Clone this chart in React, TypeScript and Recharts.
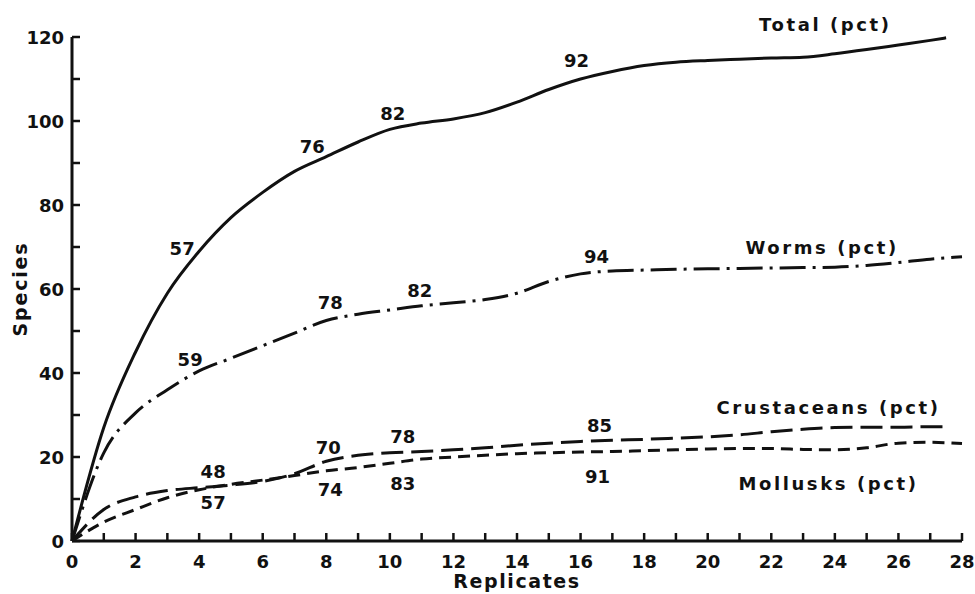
import { LineChart, Line, XAxis, YAxis, ReferenceDot } from "recharts";

const REPLICATES = [0, 1, 2, 3, 4, 5, 6, 7, 8, 9, 10, 11, 12, 13, 14, 15, 16, 17, 18, 19, 20, 21, 22, 23, 24, 25, 26, 27, 27.5, 28];
const TOTAL = [0, 27, 45, 59, 69, 77, 83, 88, 91.5, 95, 98, 99.5, 100.5, 102, 104.5, 107.5, 110, 111.8, 113.2, 114, 114.4, 114.7, 115, 115.2, 116, 117, 118.1, 119.2, 119.8, null];
const WORMS = [0, 21, 30.5, 36, 40.5, 43.5, 46.5, 49.5, 52.5, 54, 55, 56, 56.7, 57.5, 59, 61.8, 63.6, 64.3, 64.5, 64.7, 64.8, 64.9, 65, 65.1, 65.2, 65.6, 66.3, 67.1, 67.4, 67.7];
const CRUSTACEANS = [0, 7.5, 10.5, 12, 12.7, 13.3, 14.2, 16, 19, 20.4, 21, 21.3, 21.7, 22.2, 22.8, 23.3, 23.7, 24, 24.2, 24.5, 24.8, 25.3, 26, 26.6, 27, 27.1, 27.1, 27.2, 27.2, null];
const MOLLUSKS = [0, 4.5, 7.5, 10.3, 12.2, 13.5, 14.5, 15.6, 16.7, 17.5, 18.5, 19.5, 20, 20.4, 20.8, 21, 21.2, 21.3, 21.5, 21.7, 21.9, 22, 22, 21.8, 21.7, 22.2, 23.3, 23.5, 23.4, 23.2];

// percent of final species count, marked at these replicates
const PCT_AT = [4, 8, 10, 16];
const TOTAL_PCT = [57, 76, 82, 92];
const WORMS_PCT = [59, 78, 82, 94];
const CRUSTACEANS_PCT = [48, 70, 78, 85];
const MOLLUSKS_PCT = [57, 74, 83, 91];

const X_TICKS = [0, 1, 2, 3, 4, 5, 6, 7, 8, 9, 10, 11, 12, 13, 14, 15, 16, 17, 18, 19, 20, 21, 22, 23, 24, 25, 26, 27, 28];
const Y_TICKS = [0, 10, 20, 30, 40, 50, 60, 70, 80, 90, 100, 110, 120];

const FONT = "'DejaVu Sans', sans-serif";
const INK = "#111";

const rows = REPLICATES.map((x, i) => ({
  x,
  total: TOTAL[i],
  worms: WORMS[i],
  crustaceans: CRUSTACEANS[i],
  mollusks: MOLLUSKS[i],
}));

const valueAt = (series: (number | null)[], x: number) => series[REPLICATES.indexOf(x)] as number;

const series = [
  { key: "total", name: "Total (pct)", values: TOTAL, pct: TOTAL_PCT, dash: undefined, offsets: [[-17, -3], [-14, -10], [3, -16], [-4, -19]], nameAt: [23.7, 122.9] },
  { key: "worms", name: "Worms (pct)", values: WORMS, pct: WORMS_PCT, dash: "26 7 3 7", offsets: [[-9, -11], [4, -18], [30, -20], [16, -17]], nameAt: [23.6, 70] },
  { key: "crustaceans", name: "Crustaceans (pct)", values: CRUSTACEANS, pct: CRUSTACEANS_PCT, dash: "22 8", offsets: [[14, -16], [2, -14], [13, -16], [19, -16]], nameAt: [23.8, 31.7] },
  { key: "mollusks", name: "Mollusks (pct)", values: MOLLUSKS, pct: MOLLUSKS_PCT, dash: "12 7", offsets: [[14, 13], [4, 19], [13, 20], [17, 25]], nameAt: [23.8, 13.8] },
];

const XTick = ({ x, y, payload }: any) => (
  <g>
    <line x1={x} y1={y} x2={x} y2={y - 8} stroke={INK} strokeWidth={2.5} />
    {payload.value % 2 === 0 && (
      <text x={x} y={y + 27} textAnchor="middle" fontFamily={FONT} fontWeight="bold" fontSize={18} fill={INK}>
        {payload.value}
      </text>
    )}
  </g>
);

const YTick = ({ x, y, payload }: any) => (
  <g>
    <line x1={x} y1={y} x2={x + 8} y2={y} stroke={INK} strokeWidth={2.5} />
    {payload.value % 20 === 0 && (
      <text x={x - 8} y={y + 7} textAnchor="end" fontFamily={FONT} fontWeight="bold" fontSize={18} fill={INK}>
        {payload.value}
      </text>
    )}
  </g>
);

const textShape = (text: string, dx: number, dy: number, spacing = 0) => (p: any) => (
  <text
    x={p.cx + dx}
    y={p.cy + dy + 6.5}
    textAnchor="middle"
    fontFamily={FONT}
    fontWeight="bold"
    fontSize={18}
    letterSpacing={spacing}
    fill={INK}
  >
    {text}
  </text>
);

export default function App() {
  return (
    <div style={{ position: "absolute", left: 0, top: 0, background: "#fff" }}>
      <LineChart width={975} height={594} data={rows} margin={{ top: 37, right: 13, bottom: 0, left: 0 }}>
        <XAxis
          type="number"
          dataKey="x"
          domain={[0, 28]}
          ticks={X_TICKS}
          height={53}
          tickLine={false}
          tickSize={0}
          tickMargin={0}
          tick={<XTick />}
          axisLine={{ stroke: INK, strokeWidth: 3 }}
          label={{ value: "Replicates", position: "insideBottom", offset: 6, fontFamily: FONT, fontWeight: "bold", fontSize: 19, letterSpacing: 1.6, fill: INK }}
        />
        <YAxis
          type="number"
          domain={[0, 120]}
          ticks={Y_TICKS}
          width={72}
          tickLine={false}
          tickSize={0}
          tickMargin={0}
          tick={<YTick />}
          axisLine={{ stroke: INK, strokeWidth: 3 }}
          label={{ value: "Species", angle: -90, position: "insideLeft", offset: 20, style: { textAnchor: "middle" }, fontFamily: FONT, fontWeight: "bold", fontSize: 19, letterSpacing: 1.8, fill: INK }}
        />
        {series.map((s) => (
          <Line
            key={s.key}
            dataKey={s.key}
            type="monotone"
            stroke={INK}
            strokeWidth={3}
            strokeDasharray={s.dash}
            dot={false}
            activeDot={false}
            connectNulls
            isAnimationActive={false}
          />
        ))}
        {series.map((s) =>
          PCT_AT.map((x, i) => (
            <ReferenceDot
              key={`${s.key}-${x}`}
              x={x}
              y={valueAt(s.values, x)}
              r={0}
              ifOverflow="visible"
              shape={textShape(String(s.pct[i]), s.offsets[i][0], s.offsets[i][1])}
            />
          ))
        )}
        {series.map((s) => (
          <ReferenceDot
            key={`${s.key}-name`}
            x={s.nameAt[0]}
            y={s.nameAt[1]}
            r={0}
            ifOverflow="visible"
            shape={textShape(s.name, 0, 0, 2.6)}
          />
        ))}
      </LineChart>
    </div>
  );
}
